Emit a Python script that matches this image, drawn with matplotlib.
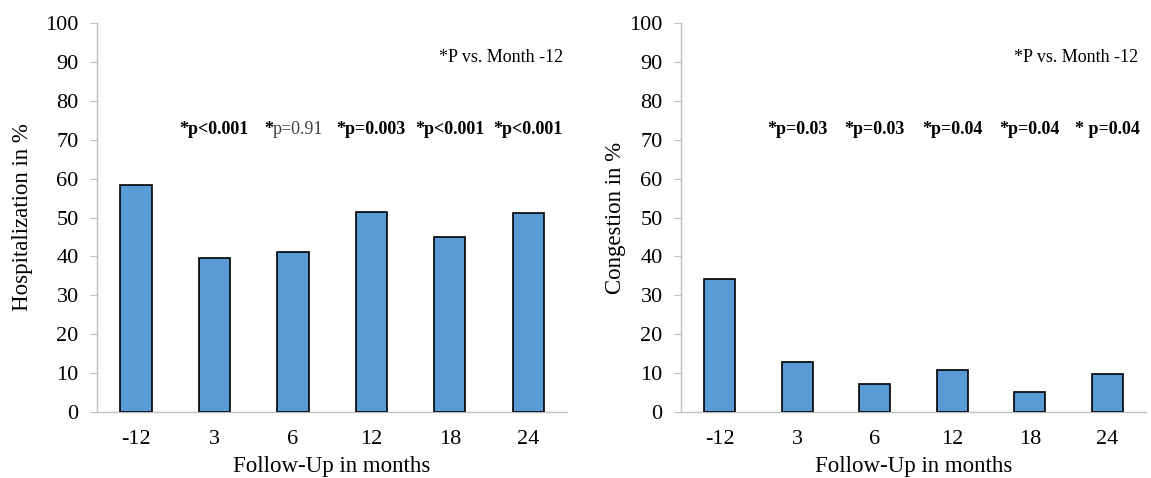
import numpy as np
import matplotlib.pyplot as plt

plt.rcParams['font.family'] = ['Liberation Serif', 'DejaVu Serif']

months = ['-12', '3', '6', '12', '18', '24']
hospitalization = [58.4, 39.7, 41.2, 51.4, 45.0, 51.1]
congestion = [34.2, 12.8, 7.3, 10.9, 5.3, 9.9]

hosp_p = ['p<0.001', 'p=0.91', 'p=0.003', 'p<0.001', 'p<0.001']
hosp_bold = [True, False, True, True, True]
cong_p = ['p=0.03', 'p=0.03', 'p=0.04', 'p=0.04', ' p=0.04']
cong_bold = [True, True, True, True, True]

bar_color = '#5B9BD5'
axis_grey = '#bfbfbf'

fig = plt.figure(figsize=(11.51, 4.78), dpi=100)
ax1 = fig.add_axes([0.0840, 0.1374, 0.4090, 0.8151])
ax2 = fig.add_axes([0.5914, 0.1374, 0.4045, 0.8151])


def draw_panel(ax, values, ylabel, pvals, bold, note_x, ylabel_pad):
    x = np.arange(len(months))
    ax.bar(x, values, width=0.4, color=bar_color, edgecolor='black', linewidth=1.2, zorder=3)
    ax.set_xlim(-0.5, len(months) - 0.5)
    ax.set_ylim(0, 100)
    ax.set_yticks(np.arange(0, 101, 10))
    ax.set_xticks(x)
    ax.set_xticklabels(months)
    ax.tick_params(axis='x', length=0, labelsize=16, pad=13)
    ax.tick_params(axis='y', length=5, color=axis_grey, labelsize=16, pad=8)
    for s in ['top', 'right']:
        ax.spines[s].set_visible(False)
    for s in ['left', 'bottom']:
        ax.spines[s].set_color(axis_grey)
        ax.spines[s].set_linewidth(1.0)
    ax.set_xlabel('Follow-Up in months', fontsize=16.5, labelpad=5)
    ax.set_ylabel(ylabel, fontsize=16.5, labelpad=ylabel_pad)

    # p-values above bars 3..24
    for i, (txt, b) in enumerate(zip(pvals, bold)):
        xi = x[i + 1]
        if b:
            ax.text(xi, 72.5, '*' + txt, ha='center', va='center', fontsize=13,
                    fontweight='bold')
        else:
            star = ax.text(xi - 0.37, 72.5, '*', ha='left', va='center',
                           fontsize=13, fontweight='bold')
            ax.annotate(txt, xy=(1, 0), xycoords=star, ha='left', va='bottom',
                        fontsize=13, color='#404040')

    ax.text(note_x, 91.0, '*P vs. Month -12', ha='right', va='center', fontsize=13)


draw_panel(ax1, hospitalization, 'Hospitalization in %', hosp_p, hosp_bold, 5.45, 8.5)
draw_panel(ax2, congestion, 'Congestion in %', cong_p, cong_bold, 5.4, 2.5)

fig.savefig('out.png', dpi=100)
